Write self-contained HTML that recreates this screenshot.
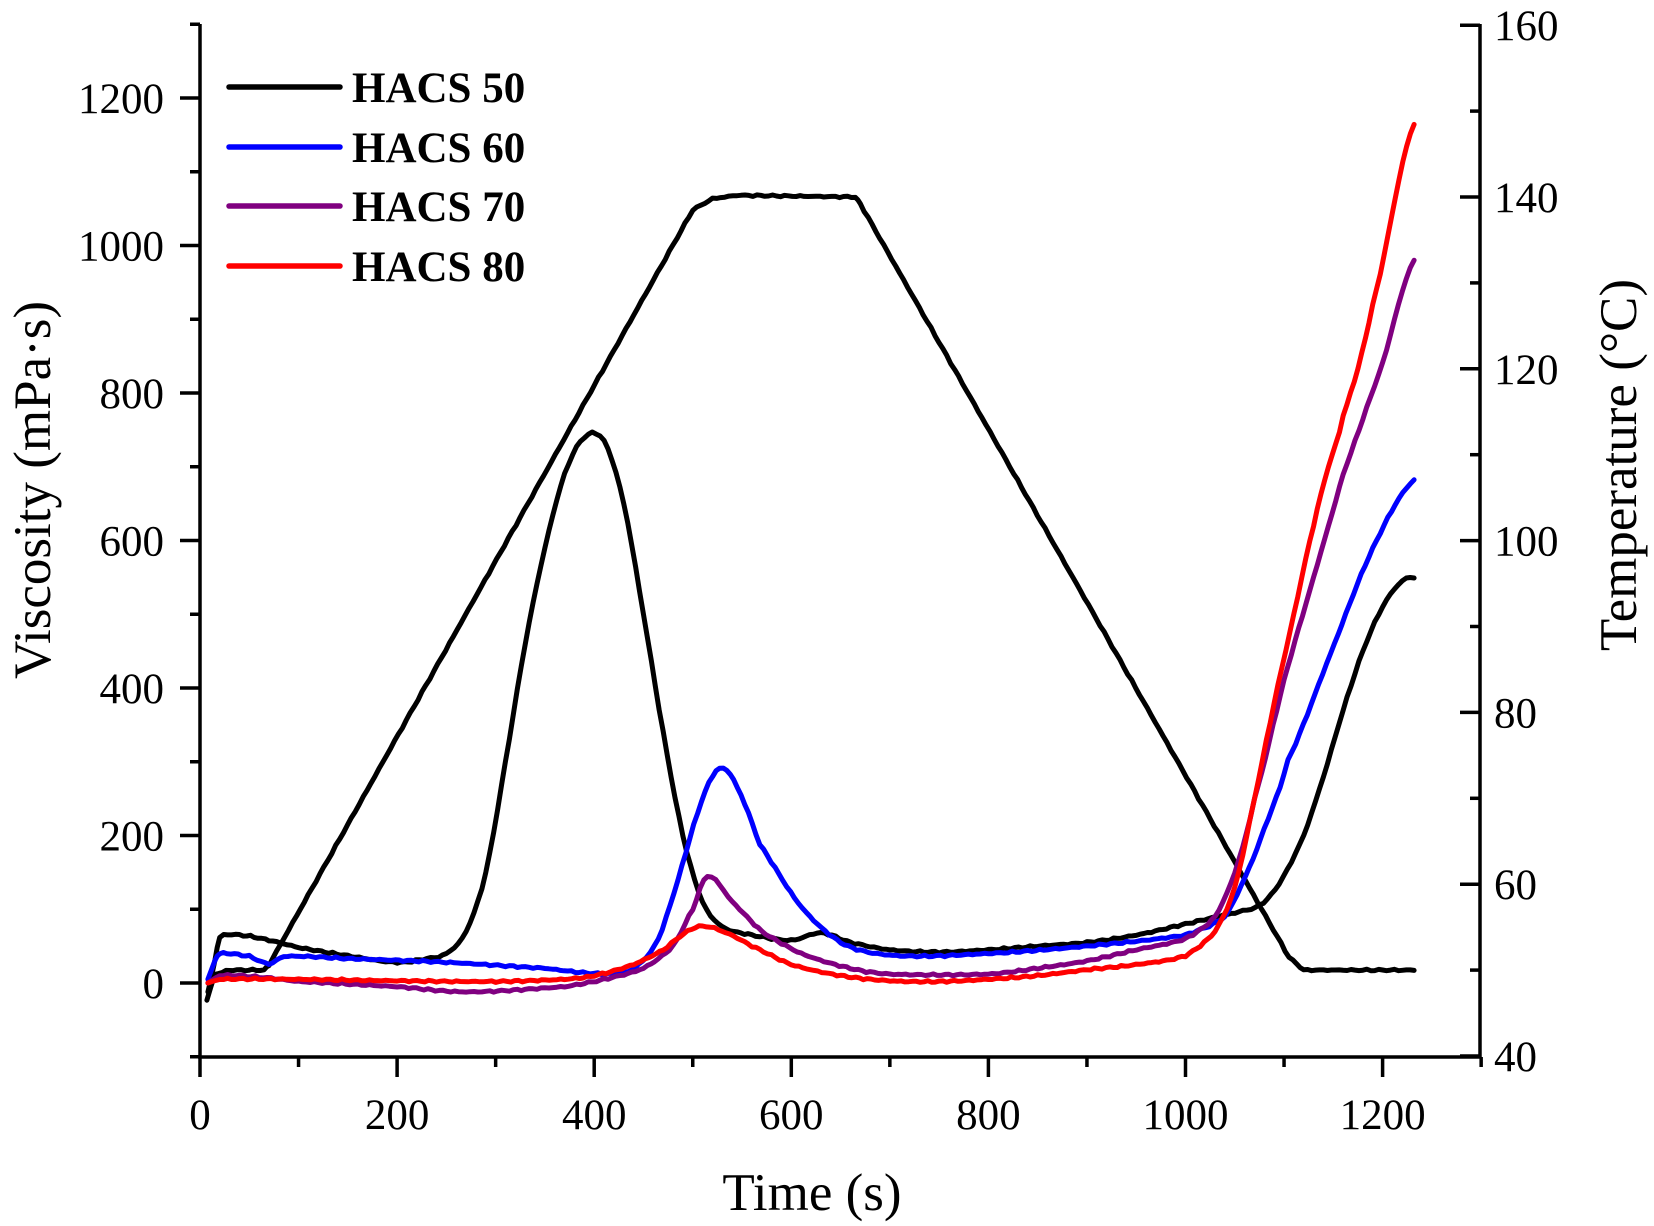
<!DOCTYPE html>
<html><head><meta charset="utf-8"><style>
html,body{margin:0;padding:0;background:#fff}
svg{display:block}
text{font-family:"Liberation Serif",serif;fill:#000}
</style></head><body>
<svg id="s" width="1654" height="1226" xmlns="http://www.w3.org/2000/svg">
<g stroke="#000" stroke-width="3.5" fill="none">
<line x1="200" y1="24" x2="200" y2="1057"/>
<line x1="198" y1="1057" x2="1481" y2="1057"/>
<line x1="1480" y1="24" x2="1480" y2="1057"/>
</g>
<g id="ticks" stroke="#000" stroke-width="3.5"></g>
<g id="labels" font-size="43"></g>
<g id="series" fill="none" stroke-width="5" stroke-linejoin="round" stroke-linecap="round"></g>
<g stroke-width="5.5" stroke-linecap="round">
<line x1="229" y1="87" x2="340" y2="87" stroke="#000"/>
<line x1="229" y1="147" x2="340" y2="147" stroke="#0000ff"/>
<line x1="229" y1="206" x2="340" y2="206" stroke="#800080"/>
<line x1="229" y1="266" x2="340" y2="266" stroke="#ff0000"/>
</g>
<g font-size="43" font-weight="bold">
<text x="352" y="102">HACS 50</text>
<text x="352" y="162">HACS 60</text>
<text x="352" y="221">HACS 70</text>
<text x="352" y="281">HACS 80</text>
</g>
<text x="812" y="1210" font-size="53" text-anchor="middle">Time (s)</text>
<text transform="translate(50,490) rotate(-90)" font-size="53" text-anchor="middle">Viscosity (mPa·s)</text>
<text transform="translate(1636,465) rotate(-90)" font-size="53" text-anchor="middle">Temperature (°C)</text>
</svg>
<script>
const NS="http://www.w3.org/2000/svg";
const X=t=>200+0.9855*t, Y=v=>983-0.7375*v, YT=T=>1056-(T-40)*8.59;
const tk=document.getElementById('ticks'), lb=document.getElementById('labels'), se=document.getElementById('series');
function el(p,tag,a,txt){const e=document.createElementNS(NS,tag);for(const k in a)e.setAttribute(k,a[k]);if(txt!=null)e.textContent=txt;p.appendChild(e);return e;}
for(let t=0;t<=1300;t+=100){const x=X(t);const maj=t%200==0;el(tk,'line',{x1:x,y1:1057,x2:x,y2:1057+(maj?20:10)});if(maj)el(lb,'text',{x:x,y:1129,'text-anchor':'middle'},t);}
for(let v=-100;v<=1300;v+=100){const y=Y(v);const maj=v%200==0;el(tk,'line',{x1:200,y1:y,x2:200-(maj?20:10),y2:y});if(maj)el(lb,'text',{x:164,y:y+15,'text-anchor':'end'},v);}
for(let T=40;T<=160;T+=10){const y=YT(T);const maj=T%20==0;el(tk,'line',{x1:1480,y1:y,x2:1480-(maj?20:10),y2:y});if(maj)el(lb,'text',{x:1494,y:y+15},T);}
function noise(i,a){return a*(Math.sin(i*1.7)+Math.sin(i*4.3)*0.6+Math.sin(i*9.1)*0.4)/2;}
function draw(pts,col,temp,nz){
  const full=[];
  for(let i=0;i<pts.length-1;i++){const [t0,v0]=pts[i],[t1,v1]=pts[i+1];
    const pm=pts[i-1]||pts[i], pn=pts[i+2]||pts[i+1];
    const n=Math.max(2,Math.round((t1-t0)/4));
    for(let k=0;k<n;k++){const s=k/n;
      const m0=(v1-pm[1])/2, m1=(pn[1]-v0)/2;
      const h00=2*s*s*s-3*s*s+1,h10=s*s*s-2*s*s+s,h01=-2*s*s*s+3*s*s,h11=s*s*s-s*s;
      let v=h00*v0+h10*m0+h01*v1+h11*m1;
      if(temp){v=v0+(v1-v0)*s;}
      full.push([t0+(t1-t0)*s,v]);}
  }
  full.push(pts[pts.length-1]);
  const d=full.map((p,i)=>{const v=p[1]+(nz?noise(i,nz):0);return (i?'L':'M')+X(p[0]).toFixed(1)+' '+(temp?YT(v):Y(v)).toFixed(1);}).join('');
  el(se,'path',{d:d,stroke:col});
}
draw([[7,46.5],[15,49.5],[30,50],[65,50],[70,50.6],[500,138.5],[520,139.8],[545,140.2],[665,140],[670,139.2],[1105,51.5],[1120,50],[1232,50]],'#000',true,0.12);
draw([[8,-12],[15,30],[20,62],[40,65],[70,58],[100,48],[150,37],[200,28],[230,33],[250,40],[270,70],[290,150],[310,300],[330,460],[350,590],[370,690],[390,740],[410,735],[430,650],[450,500],[470,340],[490,200],[510,110],[530,76],[560,65],[600,58],[630,68],[660,55],[700,45],[750,42],[800,45],[850,50],[900,55],[950,65],[1000,80],[1050,95],[1075,105],[1095,135],[1120,200],[1140,280],[1160,370],[1180,450],[1200,510],[1220,545],[1232,550]],'#000',false,1.5);
draw([[8,5],[15,30],[20,40],[50,36],[70,26],[85,36],[150,33],[250,28],[350,20],[400,13],[430,14],[445,25],[465,60],[485,140],[505,230],[520,280],[531,291],[545,265],[568,188],[611,102],[654,52],[707,37],[800,40],[900,50],[1000,65],[1040,90],[1061,145],[1080,210],[1104,302],[1147,446],[1190,589],[1232,682]],'#0000ff',false,1.5);
draw([[8,0],[20,10],[60,8],[100,2],[200,-5],[270,-12],[370,-5],[410,5],[450,20],[480,50],[500,100],[515,145],[540,110],[570,70],[610,40],[660,20],[700,12],[800,12],[850,20],[900,30],[950,45],[1000,60],[1030,90],[1050,150],[1070,250],[1100,410],[1130,550],[1160,690],[1200,840],[1232,980]],'#800080',false,1.5);
draw([[8,0],[20,5],[100,5],[200,3],[300,2],[370,5],[400,10],[440,25],[470,45],[495,70],[510,77],[530,70],[560,50],[600,25],[650,10],[700,3],[750,2],[800,5],[850,10],[900,18],[950,25],[1000,37],[1030,70],[1050,130],[1070,250],[1090,380],[1110,500],[1130,620],[1145,700],[1160,770],[1190,920],[1232,1165]],'#ff0000',false,1.5);
</script>
</body></html>
